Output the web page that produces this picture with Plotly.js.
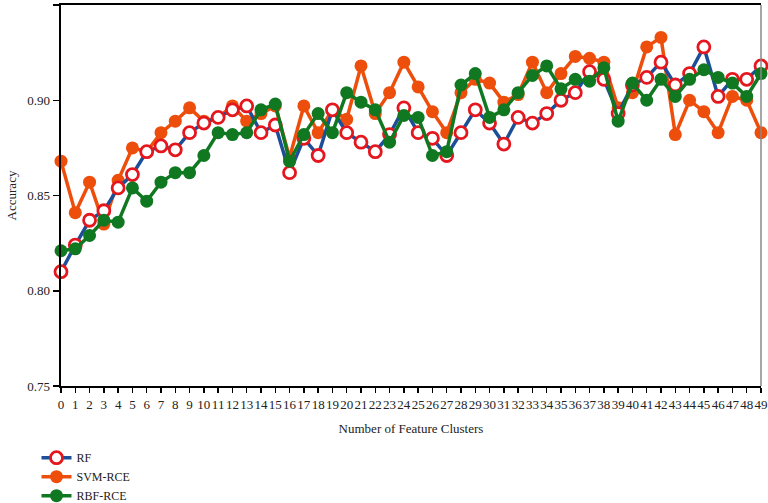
<!DOCTYPE html>
<html>
<head>
<meta charset="utf-8">
<script src="https://cdn.plot.ly/plotly-3.0.1.min.js"></script>
<style>
  html, body { margin: 0; padding: 0; background: #ffffff; }
  #plot { width: 768px; height: 503px; }
</style>
</head>
<body>
<div id="plot"></div>
<script>
const clusters = Array.from({ length: 50 }, (_, i) => i);

const rfAcc = [
    0.810, 0.824, 0.837, 0.842, 0.854, 0.861, 0.873, 0.876, 0.874, 0.883,
    0.888, 0.891, 0.895, 0.897, 0.883, 0.887, 0.862, 0.880, 0.871, 0.895,
    0.883, 0.878, 0.873, 0.882, 0.896, 0.883, 0.880, 0.871, 0.883, 0.895,
    0.888, 0.877, 0.891, 0.888, 0.893, 0.900, 0.904, 0.915, 0.911, 0.893,
    0.908, 0.912, 0.920, 0.908, 0.914, 0.928, 0.902, 0.911, 0.911, 0.918
];

const svmAcc = [
    0.868, 0.841, 0.857, 0.835, 0.858, 0.875, 0.873, 0.883, 0.889, 0.896,
    0.889, 0.891, 0.897, 0.889, 0.893, 0.897, 0.870, 0.897, 0.883, 0.895,
    0.890, 0.918, 0.893, 0.904, 0.920, 0.907, 0.894, 0.883, 0.904, 0.911,
    0.909, 0.899, 0.903, 0.920, 0.904, 0.914, 0.923, 0.922, 0.920, 0.896,
    0.904, 0.928, 0.933, 0.882, 0.900, 0.894, 0.883, 0.902, 0.900, 0.883
];

const rbfAcc = [
    0.821, 0.822, 0.829, 0.837, 0.836, 0.854, 0.847, 0.857, 0.862, 0.862,
    0.871, 0.883, 0.882, 0.883, 0.895, 0.898, 0.868, 0.882, 0.893, 0.883,
    0.904, 0.899, 0.895, 0.878, 0.892, 0.891, 0.871, 0.873, 0.908, 0.914,
    0.891, 0.895, 0.904, 0.913, 0.918, 0.906, 0.911, 0.910, 0.917, 0.889,
    0.909, 0.900, 0.911, 0.902, 0.911, 0.916, 0.912, 0.909, 0.902, 0.914
];

const yTicks = [0.75, 0.80, 0.85, 0.90, 0.95];

const serif = "Liberation Serif, DejaVu Serif, serif";

const traces = [
    {
        x: clusters,
        y: svmAcc,
        name: "SVM-RCE",
        type: "scatter",
        mode: "lines+markers",
        legendrank: 2,
        line: { color: "#ee4e0c", width: 3.5 },
        marker: { color: "#ee4e0c", size: 13, line: { width: 0 } },
        cliponaxis: false
    },
    {
        x: clusters,
        y: rfAcc,
        name: "RF",
        type: "scatter",
        mode: "lines+markers",
        legendrank: 1,
        line: { color: "#1d4f98", width: 3.5 },
        marker: {
            color: "#ffffff",
            size: 12,
            symbol: "circle",
            line: { color: "#e5171e", width: 2.8 }
        },
        cliponaxis: false
    },
    {
        x: clusters,
        y: rbfAcc,
        name: "RBF-RCE",
        type: "scatter",
        mode: "lines+markers",
        legendrank: 3,
        line: { color: "#117822", width: 3.5 },
        marker: { color: "#117822", size: 13, line: { width: 0 } },
        cliponaxis: false
    }
];

const layout = {
    width: 768,
    height: 503,
    margin: { t: 5, l: 61, r: 7, b: 117, autoexpand: false },
    paper_bgcolor: "#ffffff",
    plot_bgcolor: "#ffffff",
    font: { family: serif, size: 13, color: "#222222" },
    xaxis: {
        range: [0, 49],
        tickmode: "array",
        tickvals: clusters,
        ticktext: clusters.map(String),
        tickangle: 0,
        ticks: "outside",
        ticklen: 5,
        tickwidth: 1.5,
        tickcolor: "#000000",
        tickfont: { family: serif, size: 13, color: "#222222" },
        showgrid: false,
        zeroline: false,
        showline: true,
        linecolor: "#000000",
        linewidth: 2,
        mirror: true,
        automargin: false,
        title: {
            text: "Number of Feature Clusters",
            font: { family: serif, size: 13, color: "#222222" },
            standoff: 13
        }
    },
    yaxis: {
        range: [0.75, 0.95],
        tickmode: "array",
        tickvals: yTicks,
        ticktext: yTicks.map((v) => v.toFixed(2)),
        ticks: "outside",
        ticklen: 6,
        tickwidth: 1.5,
        tickcolor: "#000000",
        tickfont: { family: serif, size: 13, color: "#222222" },
        showgrid: false,
        zeroline: false,
        showline: true,
        linecolor: "#000000",
        linewidth: 2.5,
        automargin: false,
        title: {
            text: "Accuracy",
            font: { family: serif, size: 13, color: "#222222" },
            standoff: 8
        }
    },
    shapes: [
        {
            type: "line",
            xref: "paper",
            yref: "paper",
            x0: 1, x1: 1, y0: 0, y1: 1,
            line: { color: "#888888", width: 1.5 }
        }
    ],
    showlegend: true,
    legend: {
        x: -0.035,
        y: -0.15,
        xanchor: "left",
        yanchor: "top",
        orientation: "v",
        traceorder: "normal",
        bgcolor: "rgba(0,0,0,0)",
        font: { family: serif, size: 12, color: "#222222" },
        tracegroupgap: 0
    }
};

Plotly.newPlot("plot", traces, layout, { displayModeBar: false, staticPlot: true });
</script>
</body>
</html>
